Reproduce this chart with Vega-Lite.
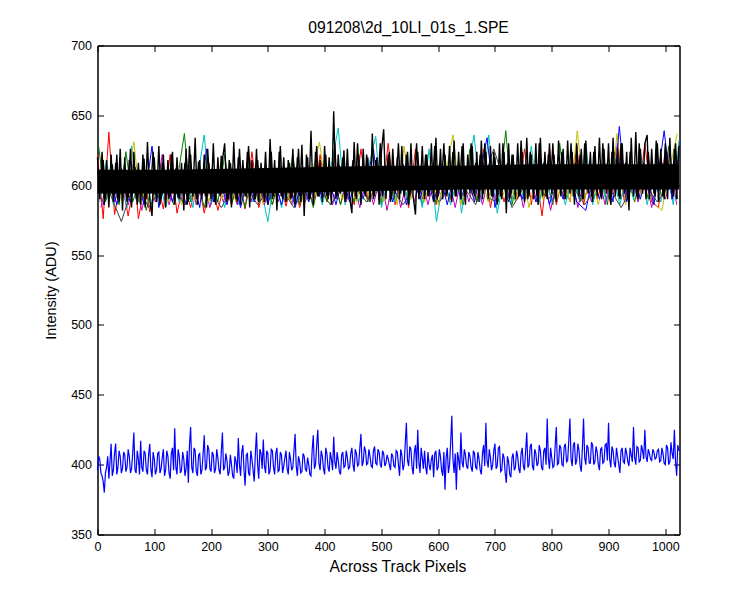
{
  "$schema": "https://vega.github.io/schema/vega-lite/v6.json",
  "width": 582,
  "height": 489,
  "autosize": "none",
  "padding": {"left": 97.5, "top": 45.5, "right": 70.5, "bottom": 65.5},
  "background": "white",
  "title": {"text": "091208\\2d_10LI_01s_1.SPE", "font": "Liberation Sans", "fontSize": 15.7, "fontWeight": "normal", "color": "black", "offset": 3, "dx": 20},
  "datasets": {
    "others": [
      {"x":0,"y":622,"s":"r"},{"x":10,"y":576,"s":"r"},{"x":20,"y":638,"s":"r"},{"x":30,"y":579,"s":"r"},{"x":42,"y":604,"s":"r"},{"x":54,"y":578,"s":"r"},{"x":66,"y":606,"s":"r"},{"x":72,"y":576,"s":"r"},{"x":84,"y":602,"s":"r"},{"x":92,"y":581,"s":"r"},{"x":104,"y":604,"s":"r"},{"x":116,"y":583,"s":"r"},{"x":128,"y":622,"s":"r"},{"x":140,"y":580,"s":"r"},{"x":152,"y":602,"s":"r"},{"x":164,"y":584,"s":"r"},{"x":176,"y":606,"s":"r"},{"x":188,"y":580,"s":"r"},{"x":200,"y":604,"s":"r"},{"x":212,"y":582,"s":"r"},{"x":224,"y":602,"s":"r"},{"x":236,"y":586,"s":"r"},{"x":248,"y":606,"s":"r"},{"x":260,"y":583,"s":"r"},{"x":272,"y":624,"s":"r"},{"x":284,"y":584,"s":"r"},{"x":296,"y":604,"s":"r"},{"x":308,"y":586,"s":"r"},{"x":320,"y":606,"s":"r"},{"x":332,"y":585,"s":"r"},{"x":344,"y":606,"s":"r"},{"x":356,"y":584,"s":"r"},{"x":368,"y":602,"s":"r"},{"x":380,"y":586,"s":"r"},{"x":392,"y":622,"s":"r"},{"x":404,"y":588,"s":"r"},{"x":416,"y":606,"s":"r"},{"x":428,"y":586,"s":"r"},{"x":440,"y":608,"s":"r"},{"x":452,"y":586,"s":"r"},{"x":464,"y":626,"s":"r"},{"x":476,"y":590,"s":"r"},{"x":488,"y":606,"s":"r"},{"x":500,"y":588,"s":"r"},{"x":512,"y":630,"s":"r"},{"x":524,"y":586,"s":"r"},{"x":536,"y":606,"s":"r"},{"x":548,"y":584,"s":"r"},{"x":560,"y":626,"s":"r"},{"x":572,"y":590,"s":"r"},{"x":584,"y":606,"s":"r"},{"x":596,"y":586,"s":"r"},{"x":608,"y":606,"s":"r"},{"x":620,"y":588,"s":"r"},{"x":632,"y":608,"s":"r"},{"x":644,"y":586,"s":"r"},{"x":656,"y":606,"s":"r"},{"x":668,"y":588,"s":"r"},{"x":680,"y":626,"s":"r"},{"x":692,"y":584,"s":"r"},{"x":704,"y":608,"s":"r"},{"x":716,"y":588,"s":"r"},{"x":728,"y":608,"s":"r"},{"x":740,"y":590,"s":"r"},{"x":752,"y":626,"s":"r"},{"x":764,"y":586,"s":"r"},{"x":772,"y":608,"s":"r"},{"x":783,"y":578,"s":"r"},{"x":796,"y":626,"s":"r"},{"x":808,"y":586,"s":"r"},{"x":820,"y":606,"s":"r"},{"x":832,"y":588,"s":"r"},{"x":844,"y":628,"s":"r"},{"x":856,"y":586,"s":"r"},{"x":868,"y":608,"s":"r"},{"x":880,"y":590,"s":"r"},{"x":892,"y":608,"s":"r"},{"x":904,"y":586,"s":"r"},{"x":916,"y":626,"s":"r"},{"x":928,"y":588,"s":"r"},{"x":940,"y":608,"s":"r"},{"x":952,"y":590,"s":"r"},{"x":964,"y":630,"s":"r"},{"x":976,"y":588,"s":"r"},{"x":988,"y":584,"s":"r"},{"x":1000,"y":626,"s":"r"},{"x":1012,"y":590,"s":"r"},{"x":1024,"y":608,"s":"r"},
      {"x":2,"y":628,"s":"g"},{"x":14,"y":588,"s":"g"},{"x":26,"y":604,"s":"g"},{"x":38,"y":586,"s":"g"},{"x":50,"y":624,"s":"g"},{"x":62,"y":588,"s":"g"},{"x":74,"y":604,"s":"g"},{"x":86,"y":582,"s":"g"},{"x":98,"y":606,"s":"g"},{"x":110,"y":588,"s":"g"},{"x":122,"y":604,"s":"g"},{"x":134,"y":586,"s":"g"},{"x":153,"y":637,"s":"g"},{"x":164,"y":588,"s":"g"},{"x":176,"y":604,"s":"g"},{"x":188,"y":584,"s":"g"},{"x":200,"y":606,"s":"g"},{"x":212,"y":588,"s":"g"},{"x":224,"y":622,"s":"g"},{"x":236,"y":586,"s":"g"},{"x":248,"y":604,"s":"g"},{"x":260,"y":584,"s":"g"},{"x":272,"y":606,"s":"g"},{"x":284,"y":588,"s":"g"},{"x":296,"y":604,"s":"g"},{"x":308,"y":586,"s":"g"},{"x":320,"y":606,"s":"g"},{"x":332,"y":588,"s":"g"},{"x":344,"y":622,"s":"g"},{"x":356,"y":586,"s":"g"},{"x":368,"y":604,"s":"g"},{"x":380,"y":584,"s":"g"},{"x":392,"y":606,"s":"g"},{"x":404,"y":588,"s":"g"},{"x":416,"y":606,"s":"g"},{"x":428,"y":586,"s":"g"},{"x":440,"y":604,"s":"g"},{"x":452,"y":588,"s":"g"},{"x":464,"y":608,"s":"g"},{"x":476,"y":588,"s":"g"},{"x":488,"y":606,"s":"g"},{"x":500,"y":586,"s":"g"},{"x":512,"y":620,"s":"g"},{"x":524,"y":590,"s":"g"},{"x":536,"y":606,"s":"g"},{"x":548,"y":588,"s":"g"},{"x":560,"y":608,"s":"g"},{"x":572,"y":586,"s":"g"},{"x":584,"y":606,"s":"g"},{"x":596,"y":588,"s":"g"},{"x":608,"y":608,"s":"g"},{"x":620,"y":590,"s":"g"},{"x":632,"y":606,"s":"g"},{"x":644,"y":586,"s":"g"},{"x":656,"y":626,"s":"g"},{"x":668,"y":588,"s":"g"},{"x":680,"y":608,"s":"g"},{"x":692,"y":590,"s":"g"},{"x":706,"y":588,"s":"g"},{"x":719,"y":639,"s":"g"},{"x":730,"y":586,"s":"g"},{"x":742,"y":608,"s":"g"},{"x":754,"y":590,"s":"g"},{"x":766,"y":608,"s":"g"},{"x":778,"y":588,"s":"g"},{"x":790,"y":606,"s":"g"},{"x":802,"y":586,"s":"g"},{"x":814,"y":630,"s":"g"},{"x":826,"y":590,"s":"g"},{"x":838,"y":608,"s":"g"},{"x":850,"y":588,"s":"g"},{"x":862,"y":610,"s":"g"},{"x":874,"y":590,"s":"g"},{"x":886,"y":608,"s":"g"},{"x":898,"y":586,"s":"g"},{"x":910,"y":624,"s":"g"},{"x":922,"y":590,"s":"g"},{"x":934,"y":608,"s":"g"},{"x":946,"y":588,"s":"g"},{"x":958,"y":610,"s":"g"},{"x":970,"y":590,"s":"g"},{"x":982,"y":608,"s":"g"},{"x":994,"y":592,"s":"g"},{"x":1006,"y":628,"s":"g"},{"x":1022,"y":590,"s":"g"},
      {"x":4,"y":588,"s":"c"},{"x":16,"y":618,"s":"c"},{"x":28,"y":586,"s":"c"},{"x":40,"y":604,"s":"c"},{"x":52,"y":584,"s":"c"},{"x":60,"y":628,"s":"c"},{"x":72,"y":588,"s":"c"},{"x":84,"y":604,"s":"c"},{"x":96,"y":586,"s":"c"},{"x":108,"y":606,"s":"c"},{"x":120,"y":584,"s":"c"},{"x":132,"y":604,"s":"c"},{"x":144,"y":588,"s":"c"},{"x":156,"y":606,"s":"c"},{"x":168,"y":584,"s":"c"},{"x":188,"y":636,"s":"c"},{"x":200,"y":586,"s":"c"},{"x":212,"y":604,"s":"c"},{"x":224,"y":584,"s":"c"},{"x":236,"y":606,"s":"c"},{"x":248,"y":586,"s":"c"},{"x":260,"y":604,"s":"c"},{"x":272,"y":588,"s":"c"},{"x":284,"y":606,"s":"c"},{"x":300,"y":574,"s":"c"},{"x":312,"y":606,"s":"c"},{"x":324,"y":584,"s":"c"},{"x":336,"y":604,"s":"c"},{"x":348,"y":586,"s":"c"},{"x":360,"y":606,"s":"c"},{"x":372,"y":588,"s":"c"},{"x":384,"y":604,"s":"c"},{"x":396,"y":586,"s":"c"},{"x":408,"y":606,"s":"c"},{"x":424,"y":641,"s":"c"},{"x":436,"y":586,"s":"c"},{"x":448,"y":606,"s":"c"},{"x":460,"y":588,"s":"c"},{"x":472,"y":604,"s":"c"},{"x":490,"y":635,"s":"c"},{"x":500,"y":584,"s":"c"},{"x":512,"y":606,"s":"c"},{"x":524,"y":588,"s":"c"},{"x":536,"y":606,"s":"c"},{"x":548,"y":586,"s":"c"},{"x":560,"y":608,"s":"c"},{"x":572,"y":584,"s":"c"},{"x":584,"y":626,"s":"c"},{"x":597,"y":574,"s":"c"},{"x":610,"y":606,"s":"c"},{"x":622,"y":586,"s":"c"},{"x":634,"y":606,"s":"c"},{"x":641,"y":580,"s":"c"},{"x":652,"y":608,"s":"c"},{"x":663,"y":636,"s":"c"},{"x":676,"y":588,"s":"c"},{"x":689,"y":636,"s":"c"},{"x":704,"y":580,"s":"c"},{"x":716,"y":606,"s":"c"},{"x":728,"y":586,"s":"c"},{"x":740,"y":608,"s":"c"},{"x":752,"y":588,"s":"c"},{"x":764,"y":628,"s":"c"},{"x":776,"y":586,"s":"c"},{"x":788,"y":608,"s":"c"},{"x":800,"y":588,"s":"c"},{"x":812,"y":606,"s":"c"},{"x":824,"y":586,"s":"c"},{"x":836,"y":608,"s":"c"},{"x":848,"y":590,"s":"c"},{"x":860,"y":630,"s":"c"},{"x":872,"y":586,"s":"c"},{"x":884,"y":608,"s":"c"},{"x":896,"y":588,"s":"c"},{"x":908,"y":606,"s":"c"},{"x":920,"y":586,"s":"c"},{"x":932,"y":608,"s":"c"},{"x":944,"y":590,"s":"c"},{"x":956,"y":626,"s":"c"},{"x":968,"y":586,"s":"c"},{"x":980,"y":608,"s":"c"},{"x":992,"y":588,"s":"c"},{"x":1004,"y":608,"s":"c"},{"x":1014,"y":586,"s":"c"},{"x":1024,"y":632,"s":"c"},
      {"x":6,"y":584,"s":"m"},{"x":18,"y":606,"s":"m"},{"x":30,"y":588,"s":"m"},{"x":42,"y":604,"s":"m"},{"x":54,"y":586,"s":"m"},{"x":66,"y":604,"s":"m"},{"x":78,"y":582,"s":"m"},{"x":90,"y":606,"s":"m"},{"x":102,"y":588,"s":"m"},{"x":114,"y":622,"s":"m"},{"x":126,"y":586,"s":"m"},{"x":138,"y":604,"s":"m"},{"x":150,"y":588,"s":"m"},{"x":162,"y":606,"s":"m"},{"x":174,"y":586,"s":"m"},{"x":186,"y":604,"s":"m"},{"x":198,"y":584,"s":"m"},{"x":210,"y":606,"s":"m"},{"x":222,"y":588,"s":"m"},{"x":234,"y":604,"s":"m"},{"x":246,"y":586,"s":"m"},{"x":258,"y":606,"s":"m"},{"x":270,"y":588,"s":"m"},{"x":282,"y":604,"s":"m"},{"x":294,"y":586,"s":"m"},{"x":306,"y":606,"s":"m"},{"x":318,"y":588,"s":"m"},{"x":330,"y":604,"s":"m"},{"x":342,"y":586,"s":"m"},{"x":354,"y":606,"s":"m"},{"x":366,"y":588,"s":"m"},{"x":378,"y":604,"s":"m"},{"x":390,"y":592,"s":"m"},{"x":402,"y":606,"s":"m"},{"x":414,"y":586,"s":"m"},{"x":426,"y":606,"s":"m"},{"x":438,"y":588,"s":"m"},{"x":450,"y":604,"s":"m"},{"x":462,"y":584,"s":"m"},{"x":474,"y":606,"s":"m"},{"x":486,"y":586,"s":"m"},{"x":498,"y":606,"s":"m"},{"x":510,"y":582,"s":"m"},{"x":522,"y":608,"s":"m"},{"x":534,"y":584,"s":"m"},{"x":546,"y":606,"s":"m"},{"x":558,"y":588,"s":"m"},{"x":570,"y":608,"s":"m"},{"x":582,"y":586,"s":"m"},{"x":594,"y":606,"s":"m"},{"x":606,"y":590,"s":"m"},{"x":618,"y":606,"s":"m"},{"x":630,"y":584,"s":"m"},{"x":642,"y":608,"s":"m"},{"x":654,"y":588,"s":"m"},{"x":666,"y":606,"s":"m"},{"x":678,"y":586,"s":"m"},{"x":690,"y":608,"s":"m"},{"x":702,"y":588,"s":"m"},{"x":714,"y":606,"s":"m"},{"x":726,"y":590,"s":"m"},{"x":738,"y":608,"s":"m"},{"x":750,"y":584,"s":"m"},{"x":762,"y":606,"s":"m"},{"x":774,"y":588,"s":"m"},{"x":786,"y":608,"s":"m"},{"x":798,"y":582,"s":"m"},{"x":810,"y":606,"s":"m"},{"x":822,"y":590,"s":"m"},{"x":834,"y":608,"s":"m"},{"x":846,"y":584,"s":"m"},{"x":858,"y":606,"s":"m"},{"x":870,"y":588,"s":"m"},{"x":882,"y":608,"s":"m"},{"x":894,"y":586,"s":"m"},{"x":916,"y":630,"s":"m"},{"x":928,"y":590,"s":"m"},{"x":940,"y":608,"s":"m"},{"x":952,"y":588,"s":"m"},{"x":964,"y":608,"s":"m"},{"x":976,"y":584,"s":"m"},{"x":988,"y":608,"s":"m"},{"x":1000,"y":590,"s":"m"},{"x":1012,"y":608,"s":"m"},{"x":1020,"y":586,"s":"m"},
      {"x":8,"y":622,"s":"y"},{"x":20,"y":590,"s":"y"},{"x":32,"y":604,"s":"y"},{"x":44,"y":588,"s":"y"},{"x":64,"y":631,"s":"y"},{"x":76,"y":586,"s":"y"},{"x":88,"y":604,"s":"y"},{"x":100,"y":590,"s":"y"},{"x":112,"y":604,"s":"y"},{"x":124,"y":588,"s":"y"},{"x":136,"y":604,"s":"y"},{"x":148,"y":586,"s":"y"},{"x":160,"y":606,"s":"y"},{"x":172,"y":590,"s":"y"},{"x":184,"y":604,"s":"y"},{"x":196,"y":588,"s":"y"},{"x":208,"y":606,"s":"y"},{"x":220,"y":590,"s":"y"},{"x":232,"y":604,"s":"y"},{"x":244,"y":588,"s":"y"},{"x":256,"y":606,"s":"y"},{"x":268,"y":590,"s":"y"},{"x":280,"y":604,"s":"y"},{"x":292,"y":586,"s":"y"},{"x":304,"y":606,"s":"y"},{"x":316,"y":590,"s":"y"},{"x":328,"y":604,"s":"y"},{"x":340,"y":588,"s":"y"},{"x":352,"y":606,"s":"y"},{"x":364,"y":586,"s":"y"},{"x":376,"y":606,"s":"y"},{"x":391,"y":631,"s":"y"},{"x":404,"y":590,"s":"y"},{"x":416,"y":606,"s":"y"},{"x":432,"y":590,"s":"y"},{"x":444,"y":606,"s":"y"},{"x":456,"y":588,"s":"y"},{"x":468,"y":606,"s":"y"},{"x":480,"y":590,"s":"y"},{"x":492,"y":606,"s":"y"},{"x":504,"y":588,"s":"y"},{"x":516,"y":606,"s":"y"},{"x":528,"y":586,"s":"y"},{"x":540,"y":628,"s":"y"},{"x":552,"y":590,"s":"y"},{"x":564,"y":606,"s":"y"},{"x":576,"y":588,"s":"y"},{"x":588,"y":608,"s":"y"},{"x":600,"y":586,"s":"y"},{"x":612,"y":606,"s":"y"},{"x":626,"y":636,"s":"y"},{"x":640,"y":586,"s":"y"},{"x":652,"y":606,"s":"y"},{"x":664,"y":590,"s":"y"},{"x":676,"y":606,"s":"y"},{"x":688,"y":588,"s":"y"},{"x":700,"y":608,"s":"y"},{"x":712,"y":590,"s":"y"},{"x":724,"y":606,"s":"y"},{"x":736,"y":588,"s":"y"},{"x":748,"y":608,"s":"y"},{"x":760,"y":584,"s":"y"},{"x":772,"y":606,"s":"y"},{"x":784,"y":590,"s":"y"},{"x":796,"y":608,"s":"y"},{"x":808,"y":588,"s":"y"},{"x":820,"y":606,"s":"y"},{"x":832,"y":588,"s":"y"},{"x":845,"y":639,"s":"y"},{"x":858,"y":590,"s":"y"},{"x":870,"y":608,"s":"y"},{"x":882,"y":586,"s":"y"},{"x":894,"y":608,"s":"y"},{"x":904,"y":590,"s":"y"},{"x":915,"y":637,"s":"y"},{"x":930,"y":586,"s":"y"},{"x":942,"y":608,"s":"y"},{"x":954,"y":590,"s":"y"},{"x":966,"y":608,"s":"y"},{"x":978,"y":588,"s":"y"},{"x":994,"y":582,"s":"y"},{"x":1006,"y":608,"s":"y"},{"x":1021,"y":637,"s":"y"},
      {"x":10,"y":586,"s":"b"},{"x":22,"y":604,"s":"b"},{"x":34,"y":586,"s":"b"},{"x":46,"y":604,"s":"b"},{"x":58,"y":588,"s":"b"},{"x":70,"y":606,"s":"b"},{"x":82,"y":586,"s":"b"},{"x":96,"y":628,"s":"b"},{"x":108,"y":584,"s":"b"},{"x":120,"y":604,"s":"b"},{"x":132,"y":588,"s":"b"},{"x":144,"y":606,"s":"b"},{"x":156,"y":586,"s":"b"},{"x":168,"y":604,"s":"b"},{"x":180,"y":584,"s":"b"},{"x":192,"y":626,"s":"b"},{"x":204,"y":588,"s":"b"},{"x":216,"y":604,"s":"b"},{"x":228,"y":586,"s":"b"},{"x":240,"y":606,"s":"b"},{"x":252,"y":584,"s":"b"},{"x":264,"y":604,"s":"b"},{"x":276,"y":588,"s":"b"},{"x":288,"y":606,"s":"b"},{"x":300,"y":586,"s":"b"},{"x":312,"y":604,"s":"b"},{"x":324,"y":586,"s":"b"},{"x":336,"y":606,"s":"b"},{"x":348,"y":584,"s":"b"},{"x":360,"y":604,"s":"b"},{"x":372,"y":588,"s":"b"},{"x":384,"y":606,"s":"b"},{"x":396,"y":590,"s":"b"},{"x":408,"y":604,"s":"b"},{"x":420,"y":586,"s":"b"},{"x":432,"y":606,"s":"b"},{"x":444,"y":588,"s":"b"},{"x":456,"y":606,"s":"b"},{"x":468,"y":590,"s":"b"},{"x":486,"y":626,"s":"b"},{"x":496,"y":590,"s":"b"},{"x":508,"y":606,"s":"b"},{"x":520,"y":588,"s":"b"},{"x":532,"y":608,"s":"b"},{"x":544,"y":586,"s":"b"},{"x":556,"y":606,"s":"b"},{"x":568,"y":590,"s":"b"},{"x":580,"y":608,"s":"b"},{"x":592,"y":588,"s":"b"},{"x":604,"y":606,"s":"b"},{"x":616,"y":586,"s":"b"},{"x":628,"y":608,"s":"b"},{"x":640,"y":590,"s":"b"},{"x":652,"y":606,"s":"b"},{"x":664,"y":588,"s":"b"},{"x":686,"y":634,"s":"b"},{"x":700,"y":584,"s":"b"},{"x":712,"y":606,"s":"b"},{"x":724,"y":588,"s":"b"},{"x":736,"y":608,"s":"b"},{"x":748,"y":590,"s":"b"},{"x":760,"y":606,"s":"b"},{"x":772,"y":588,"s":"b"},{"x":784,"y":608,"s":"b"},{"x":796,"y":586,"s":"b"},{"x":808,"y":606,"s":"b"},{"x":820,"y":590,"s":"b"},{"x":832,"y":608,"s":"b"},{"x":844,"y":588,"s":"b"},{"x":860,"y":582,"s":"b"},{"x":872,"y":606,"s":"b"},{"x":884,"y":590,"s":"b"},{"x":896,"y":608,"s":"b"},{"x":908,"y":588,"s":"b"},{"x":919,"y":642,"s":"b"},{"x":932,"y":588,"s":"b"},{"x":944,"y":608,"s":"b"},{"x":956,"y":590,"s":"b"},{"x":968,"y":608,"s":"b"},{"x":980,"y":586,"s":"b"},{"x":998,"y":639,"s":"b"},{"x":1012,"y":590,"s":"b"},{"x":1024,"y":622,"s":"b"},
      {"x":12,"y":604,"s":"k"},{"x":42,"y":574,"s":"k"},{"x":66,"y":604,"s":"k"},{"x":90,"y":584,"s":"k"},{"x":122,"y":604,"s":"k"},{"x":154,"y":586,"s":"k"},{"x":186,"y":604,"s":"k"},{"x":218,"y":584,"s":"k"},{"x":250,"y":606,"s":"k"},{"x":282,"y":586,"s":"k"},{"x":314,"y":604,"s":"k"},{"x":346,"y":584,"s":"k"},{"x":378,"y":606,"s":"k"},{"x":410,"y":586,"s":"k"},{"x":442,"y":604,"s":"k"},{"x":474,"y":588,"s":"k"},{"x":506,"y":606,"s":"k"},{"x":538,"y":586,"s":"k"},{"x":570,"y":606,"s":"k"},{"x":602,"y":588,"s":"k"},{"x":634,"y":606,"s":"k"},{"x":666,"y":586,"s":"k"},{"x":698,"y":626,"s":"k"},{"x":730,"y":584,"s":"k"},{"x":762,"y":606,"s":"k"},{"x":794,"y":590,"s":"k"},{"x":826,"y":606,"s":"k"},{"x":858,"y":586,"s":"k"},{"x":890,"y":606,"s":"k"},{"x":922,"y":584,"s":"k"},{"x":954,"y":606,"s":"k"},{"x":986,"y":588,"s":"k"},{"x":1018,"y":606,"s":"k"}
    ],
    "core": [
      {"x":0,"lo":594,"hi":611},{"x":128,"lo":594,"hi":611},{"x":256,"lo":594,"hi":612},{"x":384,"lo":595,"hi":613},{"x":512,"lo":596,"hi":614},{"x":640,"lo":597,"hi":614},{"x":768,"lo":597,"hi":615},{"x":896,"lo":597,"hi":615},{"x":1024,"lo":597,"hi":615}
    ],
    "black": [
      {"x":0,"y":620},{"x":4,"y":590},{"x":8,"y":624},{"x":12,"y":586},{"x":16,"y":618},{"x":20,"y":584},{"x":24,"y":622},{"x":28,"y":588},{"x":32,"y":616},{"x":36,"y":590},{"x":40,"y":626},{"x":44,"y":582},{"x":48,"y":620},{"x":52,"y":588},{"x":56,"y":618},{"x":60,"y":584},{"x":64,"y":624},{"x":68,"y":590},{"x":72,"y":616},{"x":76,"y":586},{"x":80,"y":622},{"x":84,"y":584},{"x":88,"y":631},{"x":92,"y":590},{"x":96,"y":578},{"x":100,"y":620},{"x":104,"y":588},{"x":108,"y":628},{"x":112,"y":590},{"x":116,"y":622},{"x":120,"y":584},{"x":124,"y":618},{"x":128,"y":592},{"x":132,"y":624},{"x":136,"y":586},{"x":140,"y":620},{"x":144,"y":590},{"x":148,"y":616},{"x":152,"y":582},{"x":156,"y":626},{"x":160,"y":588},{"x":164,"y":622},{"x":168,"y":592},{"x":172,"y":634},{"x":176,"y":586},{"x":180,"y":618},{"x":184,"y":590},{"x":188,"y":622},{"x":192,"y":584},{"x":196,"y":616},{"x":200,"y":590},{"x":204,"y":630},{"x":208,"y":586},{"x":212,"y":620},{"x":216,"y":592},{"x":220,"y":618},{"x":224,"y":630},{"x":228,"y":588},{"x":232,"y":618},{"x":236,"y":584},{"x":240,"y":631},{"x":244,"y":590},{"x":248,"y":620},{"x":252,"y":586},{"x":256,"y":618},{"x":260,"y":592},{"x":264,"y":624},{"x":268,"y":584},{"x":272,"y":618},{"x":276,"y":590},{"x":280,"y":626},{"x":284,"y":588},{"x":288,"y":616},{"x":292,"y":592},{"x":296,"y":624},{"x":300,"y":586},{"x":304,"y":633},{"x":308,"y":590},{"x":312,"y":618},{"x":316,"y":582},{"x":320,"y":624},{"x":324,"y":592},{"x":328,"y":620},{"x":332,"y":588},{"x":336,"y":618},{"x":340,"y":590},{"x":344,"y":626},{"x":348,"y":586},{"x":352,"y":620},{"x":356,"y":592},{"x":360,"y":629},{"x":364,"y":578},{"x":368,"y":622},{"x":372,"y":590},{"x":376,"y":639},{"x":380,"y":586},{"x":384,"y":624},{"x":388,"y":592},{"x":392,"y":618},{"x":396,"y":588},{"x":400,"y":628},{"x":404,"y":592},{"x":408,"y":620},{"x":412,"y":586},{"x":416,"y":653},{"x":420,"y":590},{"x":424,"y":622},{"x":428,"y":594},{"x":432,"y":620},{"x":436,"y":588},{"x":440,"y":626},{"x":444,"y":592},{"x":448,"y":580},{"x":452,"y":631},{"x":456,"y":590},{"x":460,"y":622},{"x":464,"y":586},{"x":468,"y":626},{"x":472,"y":592},{"x":476,"y":620},{"x":480,"y":588},{"x":484,"y":637},{"x":488,"y":592},{"x":492,"y":620},{"x":496,"y":586},{"x":500,"y":624},{"x":504,"y":640},{"x":508,"y":590},{"x":512,"y":622},{"x":516,"y":588},{"x":520,"y":626},{"x":524,"y":594},{"x":528,"y":620},{"x":532,"y":590},{"x":536,"y":628},{"x":540,"y":592},{"x":544,"y":622},{"x":548,"y":586},{"x":552,"y":630},{"x":556,"y":592},{"x":560,"y":579},{"x":564,"y":624},{"x":568,"y":594},{"x":572,"y":628},{"x":576,"y":590},{"x":580,"y":622},{"x":584,"y":592},{"x":588,"y":630},{"x":592,"y":588},{"x":596,"y":634},{"x":600,"y":592},{"x":604,"y":626},{"x":608,"y":590},{"x":612,"y":622},{"x":616,"y":594},{"x":620,"y":628},{"x":624,"y":588},{"x":628,"y":632},{"x":632,"y":592},{"x":636,"y":624},{"x":640,"y":590},{"x":644,"y":630},{"x":648,"y":586},{"x":652,"y":622},{"x":656,"y":594},{"x":660,"y":628},{"x":664,"y":592},{"x":668,"y":624},{"x":672,"y":588},{"x":676,"y":632},{"x":680,"y":594},{"x":684,"y":624},{"x":688,"y":590},{"x":692,"y":628},{"x":696,"y":592},{"x":700,"y":620},{"x":704,"y":586},{"x":708,"y":630},{"x":712,"y":590},{"x":716,"y":624},{"x":720,"y":580},{"x":724,"y":630},{"x":728,"y":594},{"x":732,"y":622},{"x":736,"y":590},{"x":740,"y":630},{"x":744,"y":592},{"x":748,"y":624},{"x":752,"y":588},{"x":756,"y":634},{"x":760,"y":592},{"x":764,"y":622},{"x":768,"y":590},{"x":772,"y":630},{"x":776,"y":586},{"x":780,"y":634},{"x":784,"y":592},{"x":788,"y":624},{"x":792,"y":590},{"x":796,"y":630},{"x":800,"y":594},{"x":804,"y":622},{"x":808,"y":588},{"x":812,"y":632},{"x":816,"y":592},{"x":820,"y":626},{"x":824,"y":590},{"x":828,"y":632},{"x":832,"y":594},{"x":836,"y":624},{"x":840,"y":586},{"x":844,"y":630},{"x":848,"y":592},{"x":852,"y":626},{"x":856,"y":590},{"x":860,"y":632},{"x":864,"y":594},{"x":868,"y":624},{"x":872,"y":588},{"x":876,"y":628},{"x":880,"y":592},{"x":884,"y":634},{"x":888,"y":590},{"x":892,"y":626},{"x":896,"y":594},{"x":900,"y":630},{"x":904,"y":586},{"x":908,"y":634},{"x":912,"y":592},{"x":916,"y":626},{"x":920,"y":590},{"x":924,"y":630},{"x":928,"y":594},{"x":932,"y":624},{"x":936,"y":582},{"x":940,"y":634},{"x":944,"y":592},{"x":948,"y":638},{"x":952,"y":590},{"x":956,"y":626},{"x":960,"y":594},{"x":964,"y":630},{"x":968,"y":636},{"x":972,"y":590},{"x":976,"y":626},{"x":980,"y":594},{"x":984,"y":632},{"x":988,"y":588},{"x":992,"y":626},{"x":996,"y":592},{"x":1000,"y":630},{"x":1004,"y":590},{"x":1008,"y":634},{"x":1012,"y":594},{"x":1016,"y":626},{"x":1020,"y":590},{"x":1024,"y":628}
    ],
    "black2": [
      {"x":2,"y":611},{"x":6,"y":597},{"x":10,"y":618},{"x":14,"y":590},{"x":18,"y":609},{"x":22,"y":599},{"x":26,"y":615},{"x":30,"y":593},{"x":34,"y":622},{"x":38,"y":588},{"x":42,"y":612},{"x":46,"y":598},{"x":50,"y":610},{"x":54,"y":591},{"x":58,"y":626},{"x":62,"y":597},{"x":66,"y":613},{"x":70,"y":586},{"x":74,"y":609},{"x":78,"y":595},{"x":82,"y":619},{"x":86,"y":590},{"x":90,"y":611},{"x":94,"y":599},{"x":98,"y":624},{"x":102,"y":593},{"x":106,"y":608},{"x":110,"y":586},{"x":114,"y":616},{"x":118,"y":597},{"x":122,"y":610},{"x":126,"y":590},{"x":130,"y":622},{"x":134,"y":598},{"x":138,"y":612},{"x":142,"y":591},{"x":146,"y":609},{"x":150,"y":596},{"x":154,"y":616},{"x":158,"y":586},{"x":162,"y":628},{"x":166,"y":599},{"x":170,"y":610},{"x":174,"y":590},{"x":178,"y":617},{"x":182,"y":596},{"x":186,"y":608},{"x":190,"y":592},{"x":194,"y":626},{"x":198,"y":598},{"x":202,"y":612},{"x":206,"y":588},{"x":210,"y":609},{"x":214,"y":594},{"x":218,"y":621},{"x":222,"y":599},{"x":226,"y":611},{"x":230,"y":590},{"x":234,"y":616},{"x":238,"y":597},{"x":242,"y":609},{"x":246,"y":588},{"x":250,"y":626},{"x":254,"y":596},{"x":258,"y":612},{"x":262,"y":592},{"x":266,"y":628},{"x":270,"y":599},{"x":274,"y":610},{"x":278,"y":590},{"x":282,"y":618},{"x":286,"y":597},{"x":290,"y":611},{"x":294,"y":588},{"x":298,"y":609},{"x":302,"y":596},{"x":306,"y":624},{"x":310,"y":592},{"x":314,"y":612},{"x":318,"y":598},{"x":322,"y":628},{"x":326,"y":590},{"x":330,"y":610},{"x":334,"y":597},{"x":338,"y":616},{"x":342,"y":591},{"x":346,"y":611},{"x":350,"y":599},{"x":354,"y":626},{"x":358,"y":588},{"x":362,"y":612},{"x":366,"y":597},{"x":370,"y":620},{"x":374,"y":590},{"x":378,"y":610},{"x":382,"y":600},{"x":386,"y":628},{"x":390,"y":592},{"x":394,"y":613},{"x":398,"y":598},{"x":402,"y":622},{"x":406,"y":590},{"x":410,"y":611},{"x":414,"y":600},{"x":418,"y":630},{"x":422,"y":592},{"x":426,"y":614},{"x":430,"y":598},{"x":434,"y":625},{"x":438,"y":590},{"x":442,"y":612},{"x":446,"y":601},{"x":450,"y":618},{"x":454,"y":592},{"x":458,"y":630},{"x":462,"y":598},{"x":466,"y":613},{"x":470,"y":594},{"x":474,"y":622},{"x":478,"y":600},{"x":482,"y":612},{"x":486,"y":590},{"x":490,"y":618},{"x":494,"y":601},{"x":498,"y":630},{"x":502,"y":592},{"x":506,"y":614},{"x":510,"y":600},{"x":514,"y":624},{"x":518,"y":590},{"x":522,"y":613},{"x":526,"y":601},{"x":530,"y":630},{"x":534,"y":594},{"x":538,"y":615},{"x":542,"y":600},{"x":546,"y":624},{"x":550,"y":592},{"x":554,"y":612},{"x":558,"y":602},{"x":562,"y":630},{"x":566,"y":590},{"x":570,"y":614},{"x":574,"y":600},{"x":578,"y":622},{"x":582,"y":592},{"x":586,"y":613},{"x":590,"y":601},{"x":594,"y":628},{"x":598,"y":590},{"x":602,"y":615},{"x":606,"y":600},{"x":610,"y":630},{"x":614,"y":592},{"x":618,"y":613},{"x":622,"y":602},{"x":626,"y":624},{"x":630,"y":592},{"x":634,"y":614},{"x":638,"y":600},{"x":642,"y":628},{"x":646,"y":592},{"x":650,"y":613},{"x":654,"y":601},{"x":658,"y":630},{"x":662,"y":594},{"x":666,"y":616},{"x":670,"y":600},{"x":674,"y":622},{"x":678,"y":590},{"x":682,"y":630},{"x":686,"y":601},{"x":690,"y":614},{"x":694,"y":592},{"x":698,"y":624},{"x":702,"y":600},{"x":706,"y":613},{"x":710,"y":592},{"x":714,"y":630},{"x":718,"y":602},{"x":722,"y":616},{"x":726,"y":590},{"x":730,"y":622},{"x":734,"y":600},{"x":738,"y":614},{"x":742,"y":592},{"x":746,"y":632},{"x":750,"y":601},{"x":754,"y":615},{"x":758,"y":590},{"x":762,"y":624},{"x":766,"y":600},{"x":770,"y":613},{"x":774,"y":592},{"x":778,"y":630},{"x":782,"y":602},{"x":786,"y":616},{"x":790,"y":592},{"x":794,"y":622},{"x":798,"y":600},{"x":802,"y":630},{"x":806,"y":590},{"x":810,"y":614},{"x":814,"y":601},{"x":818,"y":624},{"x":822,"y":592},{"x":826,"y":615},{"x":830,"y":600},{"x":834,"y":630},{"x":838,"y":592},{"x":842,"y":616},{"x":846,"y":602},{"x":850,"y":622},{"x":854,"y":590},{"x":858,"y":630},{"x":862,"y":600},{"x":866,"y":615},{"x":870,"y":592},{"x":874,"y":624},{"x":878,"y":601},{"x":882,"y":614},{"x":886,"y":592},{"x":890,"y":630},{"x":894,"y":600},{"x":898,"y":616},{"x":902,"y":590},{"x":906,"y":624},{"x":910,"y":602},{"x":914,"y":615},{"x":918,"y":592},{"x":922,"y":630},{"x":926,"y":600},{"x":930,"y":616},{"x":934,"y":590},{"x":938,"y":624},{"x":942,"y":601},{"x":946,"y":614},{"x":950,"y":592},{"x":954,"y":630},{"x":958,"y":600},{"x":962,"y":616},{"x":966,"y":590},{"x":970,"y":624},{"x":974,"y":602},{"x":978,"y":615},{"x":982,"y":592},{"x":986,"y":630},{"x":990,"y":600},{"x":994,"y":616},{"x":998,"y":590},{"x":1002,"y":624},{"x":1006,"y":601},{"x":1010,"y":614},{"x":1014,"y":592},{"x":1018,"y":630},{"x":1022,"y":600}
    ],
    "low": [
      {"x":0,"y":396},{"x":2,"y":406},{"x":4,"y":404},{"x":6,"y":394},{"x":8,"y":392},{"x":10,"y":388},{"x":12,"y":380},{"x":14,"y":394},{"x":16,"y":398},{"x":18,"y":406},{"x":20,"y":390},{"x":22,"y":402},{"x":24,"y":415},{"x":26,"y":392},{"x":28,"y":396},{"x":30,"y":408},{"x":32,"y":415},{"x":34,"y":393},{"x":36,"y":398},{"x":38,"y":410},{"x":40,"y":406},{"x":42,"y":394},{"x":44,"y":397},{"x":46,"y":409},{"x":48,"y":407},{"x":50,"y":395},{"x":52,"y":398},{"x":54,"y":411},{"x":56,"y":406},{"x":58,"y":394},{"x":60,"y":397},{"x":62,"y":408},{"x":64,"y":423},{"x":66,"y":396},{"x":68,"y":394},{"x":70,"y":410},{"x":72,"y":404},{"x":74,"y":393},{"x":76,"y":417},{"x":78,"y":398},{"x":80,"y":395},{"x":82,"y":410},{"x":84,"y":408},{"x":86,"y":396},{"x":88,"y":393},{"x":90,"y":407},{"x":92,"y":415},{"x":94,"y":397},{"x":96,"y":391},{"x":98,"y":409},{"x":100,"y":404},{"x":102,"y":393},{"x":104,"y":396},{"x":106,"y":408},{"x":108,"y":409},{"x":110,"y":394},{"x":112,"y":397},{"x":114,"y":405},{"x":116,"y":411},{"x":118,"y":392},{"x":120,"y":396},{"x":122,"y":410},{"x":124,"y":406},{"x":126,"y":394},{"x":128,"y":390},{"x":130,"y":408},{"x":132,"y":412},{"x":134,"y":396},{"x":136,"y":426},{"x":138,"y":398},{"x":140,"y":393},{"x":142,"y":411},{"x":144,"y":406},{"x":146,"y":394},{"x":148,"y":396},{"x":150,"y":409},{"x":152,"y":404},{"x":154,"y":392},{"x":156,"y":397},{"x":158,"y":410},{"x":160,"y":387},{"x":162,"y":414},{"x":164,"y":427},{"x":166,"y":398},{"x":168,"y":394},{"x":170,"y":412},{"x":172,"y":410},{"x":174,"y":395},{"x":176,"y":392},{"x":178,"y":407},{"x":180,"y":408},{"x":182,"y":393},{"x":184,"y":396},{"x":186,"y":408},{"x":188,"y":421},{"x":190,"y":396},{"x":192,"y":398},{"x":194,"y":414},{"x":196,"y":411},{"x":198,"y":397},{"x":200,"y":395},{"x":202,"y":409},{"x":204,"y":407},{"x":206,"y":394},{"x":208,"y":397},{"x":210,"y":411},{"x":212,"y":405},{"x":214,"y":396},{"x":216,"y":393},{"x":218,"y":409},{"x":220,"y":423},{"x":222,"y":396},{"x":224,"y":398},{"x":226,"y":408},{"x":228,"y":403},{"x":230,"y":392},{"x":232,"y":395},{"x":234,"y":407},{"x":236,"y":400},{"x":238,"y":392},{"x":240,"y":390},{"x":242,"y":406},{"x":244,"y":402},{"x":246,"y":394},{"x":248,"y":419},{"x":250,"y":400},{"x":252,"y":392},{"x":254,"y":409},{"x":256,"y":414},{"x":258,"y":396},{"x":260,"y":385},{"x":262,"y":407},{"x":264,"y":408},{"x":266,"y":394},{"x":268,"y":392},{"x":270,"y":410},{"x":272,"y":404},{"x":274,"y":396},{"x":276,"y":388},{"x":278,"y":408},{"x":280,"y":423},{"x":282,"y":400},{"x":284,"y":390},{"x":286,"y":411},{"x":288,"y":408},{"x":290,"y":397},{"x":292,"y":418},{"x":294,"y":399},{"x":296,"y":394},{"x":298,"y":410},{"x":300,"y":408},{"x":302,"y":393},{"x":304,"y":396},{"x":306,"y":411},{"x":308,"y":410},{"x":310,"y":398},{"x":312,"y":393},{"x":314,"y":408},{"x":316,"y":412},{"x":318,"y":395},{"x":320,"y":396},{"x":322,"y":409},{"x":324,"y":407},{"x":326,"y":394},{"x":328,"y":399},{"x":330,"y":405},{"x":332,"y":410},{"x":334,"y":397},{"x":336,"y":393},{"x":338,"y":409},{"x":340,"y":404},{"x":342,"y":396},{"x":344,"y":398},{"x":346,"y":410},{"x":348,"y":422},{"x":350,"y":399},{"x":352,"y":392},{"x":354,"y":406},{"x":356,"y":402},{"x":358,"y":394},{"x":360,"y":395},{"x":362,"y":408},{"x":364,"y":406},{"x":366,"y":397},{"x":368,"y":395},{"x":370,"y":405},{"x":372,"y":400},{"x":374,"y":393},{"x":376,"y":392},{"x":378,"y":410},{"x":380,"y":421},{"x":382,"y":397},{"x":384,"y":400},{"x":386,"y":414},{"x":388,"y":425},{"x":390,"y":401},{"x":392,"y":396},{"x":394,"y":410},{"x":396,"y":406},{"x":398,"y":397},{"x":400,"y":393},{"x":402,"y":412},{"x":404,"y":408},{"x":406,"y":398},{"x":408,"y":395},{"x":410,"y":409},{"x":412,"y":404},{"x":414,"y":396},{"x":416,"y":420},{"x":418,"y":402},{"x":420,"y":397},{"x":422,"y":409},{"x":424,"y":403},{"x":426,"y":395},{"x":428,"y":393},{"x":430,"y":407},{"x":432,"y":409},{"x":434,"y":398},{"x":436,"y":399},{"x":438,"y":410},{"x":440,"y":405},{"x":442,"y":397},{"x":444,"y":398},{"x":446,"y":408},{"x":448,"y":412},{"x":450,"y":400},{"x":452,"y":395},{"x":454,"y":411},{"x":456,"y":408},{"x":458,"y":399},{"x":460,"y":400},{"x":462,"y":412},{"x":464,"y":422},{"x":466,"y":399},{"x":468,"y":402},{"x":470,"y":413},{"x":472,"y":410},{"x":474,"y":400},{"x":476,"y":401},{"x":478,"y":411},{"x":480,"y":406},{"x":482,"y":399},{"x":484,"y":398},{"x":486,"y":410},{"x":488,"y":413},{"x":490,"y":401},{"x":492,"y":400},{"x":494,"y":411},{"x":496,"y":409},{"x":498,"y":400},{"x":500,"y":398},{"x":502,"y":410},{"x":504,"y":408},{"x":506,"y":399},{"x":508,"y":401},{"x":510,"y":407},{"x":512,"y":404},{"x":514,"y":400},{"x":516,"y":396},{"x":518,"y":408},{"x":520,"y":406},{"x":522,"y":399},{"x":524,"y":398},{"x":526,"y":410},{"x":528,"y":409},{"x":530,"y":400},{"x":532,"y":392},{"x":534,"y":411},{"x":536,"y":407},{"x":538,"y":396},{"x":540,"y":400},{"x":542,"y":415},{"x":544,"y":430},{"x":546,"y":403},{"x":548,"y":399},{"x":550,"y":413},{"x":552,"y":411},{"x":554,"y":398},{"x":556,"y":393},{"x":558,"y":409},{"x":560,"y":414},{"x":562,"y":397},{"x":564,"y":425},{"x":566,"y":402},{"x":568,"y":394},{"x":570,"y":412},{"x":572,"y":405},{"x":574,"y":397},{"x":576,"y":410},{"x":578,"y":398},{"x":580,"y":393},{"x":582,"y":409},{"x":584,"y":400},{"x":586,"y":396},{"x":588,"y":404},{"x":590,"y":407},{"x":592,"y":391},{"x":594,"y":408},{"x":596,"y":410},{"x":598,"y":396},{"x":600,"y":398},{"x":602,"y":411},{"x":604,"y":406},{"x":606,"y":396},{"x":608,"y":392},{"x":610,"y":409},{"x":612,"y":382},{"x":614,"y":405},{"x":616,"y":412},{"x":618,"y":394},{"x":620,"y":400},{"x":622,"y":416},{"x":624,"y":435},{"x":626,"y":404},{"x":628,"y":394},{"x":630,"y":408},{"x":632,"y":382},{"x":634,"y":409},{"x":636,"y":404},{"x":638,"y":396},{"x":640,"y":423},{"x":642,"y":402},{"x":644,"y":398},{"x":646,"y":411},{"x":648,"y":407},{"x":650,"y":399},{"x":652,"y":397},{"x":654,"y":409},{"x":656,"y":406},{"x":658,"y":398},{"x":660,"y":395},{"x":662,"y":410},{"x":664,"y":408},{"x":666,"y":398},{"x":668,"y":397},{"x":670,"y":409},{"x":672,"y":404},{"x":674,"y":396},{"x":676,"y":393},{"x":678,"y":408},{"x":680,"y":414},{"x":682,"y":399},{"x":684,"y":430},{"x":686,"y":403},{"x":688,"y":398},{"x":690,"y":411},{"x":692,"y":405},{"x":694,"y":396},{"x":696,"y":400},{"x":698,"y":410},{"x":700,"y":415},{"x":702,"y":397},{"x":704,"y":399},{"x":706,"y":412},{"x":708,"y":413},{"x":710,"y":395},{"x":712,"y":396},{"x":714,"y":408},{"x":716,"y":405},{"x":718,"y":394},{"x":720,"y":387},{"x":722,"y":406},{"x":724,"y":402},{"x":726,"y":393},{"x":728,"y":391},{"x":730,"y":405},{"x":732,"y":408},{"x":734,"y":396},{"x":736,"y":398},{"x":738,"y":410},{"x":740,"y":406},{"x":742,"y":397},{"x":744,"y":394},{"x":746,"y":408},{"x":748,"y":412},{"x":750,"y":399},{"x":752,"y":396},{"x":754,"y":410},{"x":756,"y":423},{"x":758,"y":398},{"x":760,"y":400},{"x":762,"y":413},{"x":764,"y":415},{"x":766,"y":399},{"x":768,"y":396},{"x":770,"y":411},{"x":772,"y":408},{"x":774,"y":399},{"x":776,"y":401},{"x":778,"y":414},{"x":780,"y":410},{"x":782,"y":398},{"x":784,"y":396},{"x":786,"y":410},{"x":788,"y":412},{"x":790,"y":400},{"x":792,"y":433},{"x":794,"y":405},{"x":796,"y":397},{"x":798,"y":412},{"x":800,"y":405},{"x":802,"y":398},{"x":804,"y":399},{"x":806,"y":413},{"x":808,"y":427},{"x":810,"y":400},{"x":812,"y":401},{"x":814,"y":414},{"x":816,"y":412},{"x":818,"y":400},{"x":820,"y":399},{"x":822,"y":413},{"x":824,"y":415},{"x":826,"y":402},{"x":828,"y":403},{"x":830,"y":417},{"x":832,"y":433},{"x":834,"y":404},{"x":836,"y":399},{"x":838,"y":414},{"x":840,"y":416},{"x":842,"y":400},{"x":844,"y":403},{"x":846,"y":415},{"x":848,"y":410},{"x":850,"y":399},{"x":852,"y":395},{"x":854,"y":412},{"x":856,"y":433},{"x":858,"y":405},{"x":860,"y":400},{"x":862,"y":414},{"x":864,"y":412},{"x":866,"y":401},{"x":868,"y":401},{"x":870,"y":416},{"x":872,"y":414},{"x":874,"y":400},{"x":876,"y":402},{"x":878,"y":413},{"x":880,"y":409},{"x":882,"y":400},{"x":884,"y":396},{"x":886,"y":411},{"x":888,"y":412},{"x":890,"y":401},{"x":892,"y":402},{"x":894,"y":414},{"x":896,"y":415},{"x":898,"y":403},{"x":900,"y":430},{"x":902,"y":404},{"x":904,"y":398},{"x":906,"y":413},{"x":908,"y":410},{"x":910,"y":401},{"x":912,"y":398},{"x":914,"y":412},{"x":916,"y":406},{"x":918,"y":400},{"x":920,"y":394},{"x":922,"y":410},{"x":924,"y":412},{"x":926,"y":402},{"x":928,"y":401},{"x":930,"y":412},{"x":932,"y":408},{"x":934,"y":402},{"x":936,"y":399},{"x":938,"y":412},{"x":940,"y":407},{"x":942,"y":402},{"x":944,"y":427},{"x":946,"y":405},{"x":948,"y":400},{"x":950,"y":413},{"x":952,"y":412},{"x":954,"y":402},{"x":956,"y":403},{"x":958,"y":414},{"x":960,"y":410},{"x":962,"y":404},{"x":964,"y":425},{"x":966,"y":406},{"x":968,"y":402},{"x":970,"y":411},{"x":972,"y":408},{"x":974,"y":404},{"x":976,"y":403},{"x":978,"y":411},{"x":980,"y":409},{"x":982,"y":404},{"x":984,"y":405},{"x":986,"y":410},{"x":988,"y":411},{"x":990,"y":402},{"x":992,"y":403},{"x":994,"y":412},{"x":996,"y":408},{"x":998,"y":401},{"x":1000,"y":400},{"x":1002,"y":414},{"x":1004,"y":412},{"x":1006,"y":400},{"x":1008,"y":402},{"x":1010,"y":416},{"x":1012,"y":408},{"x":1014,"y":404},{"x":1016,"y":425},{"x":1018,"y":402},{"x":1020,"y":392},{"x":1022,"y":414},{"x":1024,"y":410}
    ]
  },
  "layer": [
    {
      "data": {"name": "others"},
      "mark": {"type": "line", "strokeWidth": 1},
      "encoding": {
        "x": {
          "field": "x", "type": "quantitative",
          "scale": {"domain": [0, 1025], "nice": false},
          "axis": {"orient": "bottom", "values": [0,100,200,300,400,500,600,700,800,900,1000], "format": "d", "labelFlush": false, "title": "Across Track Pixels", "titleX": 300, "titleFontSize": 15.7, "tickSize": -6, "labelPadding": 12, "titlePadding": 6, "grid": false}
        },
        "y": {
          "field": "y", "type": "quantitative",
          "scale": {"domain": [350, 700], "nice": false},
          "axis": {"orient": "left", "values": [350,400,450,500,550,600,650,700], "labelFlush": false, "title": "Intensity (ADU)", "tickSize": -6, "labelPadding": 12, "titlePadding": 12, "grid": false}
        },
        "color": {
          "field": "s", "type": "nominal",
          "scale": {"domain": ["r","g","c","m","y","b","k"], "range": ["#ff0000","#008000","#00bfbf","#bf00bf","#bfbf00","#0000ff","#404040"]},
          "legend": null
        }
      }
    },
    {
      "data": {"name": "core"},
      "mark": {"type": "area", "color": "black"},
      "encoding": {
        "x": {"field": "x", "type": "quantitative", "axis": null},
        "y": {"field": "lo", "type": "quantitative", "axis": null},
        "y2": {"field": "hi"}
      }
    },
    {
      "data": {"name": "black"},
      "mark": {"type": "line", "strokeWidth": 1.4, "color": "black"},
      "encoding": {
        "x": {"field": "x", "type": "quantitative", "axis": null},
        "y": {"field": "y", "type": "quantitative", "axis": null}
      }
    },
    {
      "data": {"name": "black2"},
      "mark": {"type": "line", "strokeWidth": 1.4, "color": "black"},
      "encoding": {
        "x": {"field": "x", "type": "quantitative", "axis": null},
        "y": {"field": "y", "type": "quantitative", "axis": null}
      }
    },
    {
      "data": {"name": "low"},
      "mark": {"type": "line", "strokeWidth": 1.2, "color": "#0000ff"},
      "encoding": {
        "x": {
          "field": "x", "type": "quantitative",
          "axis": {"orient": "top", "values": [0,100,200,300,400,500,600,700,800,900,1000], "labels": false, "title": null, "tickSize": -6, "grid": false}
        },
        "y": {
          "field": "y", "type": "quantitative",
          "axis": {"orient": "right", "values": [350,400,450,500,550,600,650,700], "labels": false, "title": null, "tickSize": -6, "grid": false}
        }
      }
    }
  ],
  "resolve": {"axis": {"x": "independent", "y": "independent"}},
  "config": {
    "view": {"stroke": "black"},
    "axis": {
      "domainColor": "black",
      "tickColor": "black",
      "labelColor": "black",
      "titleColor": "black",
      "labelFont": "Liberation Sans",
      "titleFont": "Liberation Sans",
      "labelFontSize": 12.5,
      "titleFontSize": 14.5,
      "titleFontWeight": "normal"
    }
  }
}
